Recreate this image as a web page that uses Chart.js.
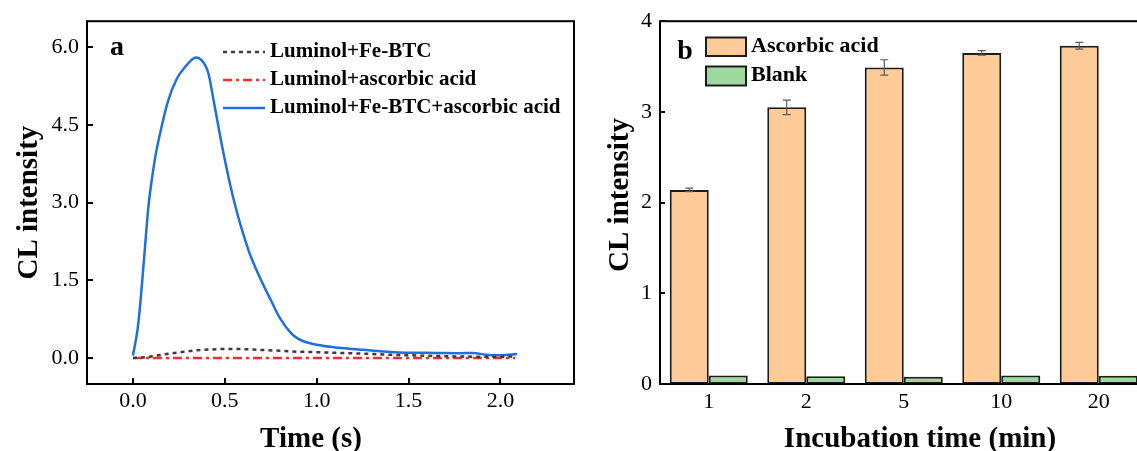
<!DOCTYPE html>
<html><head><meta charset="utf-8">
<script src="https://cdn.jsdelivr.net/npm/chart.js@4.4.0/dist/chart.umd.min.js"></script>
<style>
html,body{margin:0;padding:0;background:#fff;width:1137px;height:451px;overflow:hidden;position:relative;}
#ca{position:absolute;left:0;top:0;}
#cb{position:absolute;left:590px;top:0;}
</style></head><body>
<canvas id="ca" width="590" height="451"></canvas>
<canvas id="cb" width="600" height="451"></canvas>
<script>
// ---------- Panel a data ----------
const timeFeBtc = [0, 0.08, 0.15, 0.25, 0.33, 0.42, 0.51, 0.6, 0.69, 0.78, 0.87, 0.96, 1.05, 1.14, 1.23, 1.32, 1.41, 1.5, 1.6, 1.7, 1.78, 1.87, 1.96, 2.08];
const feBtc     = [0, 0.02, 0.06, 0.11, 0.145, 0.165, 0.177, 0.172, 0.158, 0.145, 0.127, 0.117, 0.107, 0.097, 0.088, 0.076, 0.063, 0.055, 0.044, 0.036, 0.03, 0.027, 0.025, 0.03];
const timeAscOnly = [0, 0.3, 0.6, 0.9, 1.2, 1.5, 1.8, 2.08];
const ascOnly     = [0, 0, 0, 0, 0, 0, 0, 0];
const timeMix = [0, 0.025, 0.04, 0.06, 0.085, 0.105, 0.125, 0.155, 0.19, 0.24, 0.285, 0.315, 0.34, 0.37, 0.41, 0.44, 0.49, 0.55, 0.63, 0.69, 0.75, 0.8, 0.86, 0.9, 0.94, 0.98, 1.03, 1.15, 1.25, 1.45, 1.65, 1.78, 1.85, 1.92, 2.0, 2.09];
const mix     = [0.05, 0.55, 1.05, 1.9, 2.95, 3.5, 3.95, 4.45, 4.95, 5.4, 5.62, 5.74, 5.8, 5.76, 5.5, 4.95, 4.0, 3.03, 2.07, 1.56, 1.12, 0.77, 0.48, 0.37, 0.31, 0.27, 0.24, 0.19, 0.16, 0.11, 0.1, 0.095, 0.1, 0.065, 0.055, 0.08];
const seriesNamesA = ['Luminol+Fe-BTC', 'Luminol+ascorbic acid', 'Luminol+Fe-BTC+ascorbic acid'];
const xTicksA = [0, 0.5, 1.0, 1.5, 2.0];
const yTicksA = [0, 1.5, 3.0, 4.5, 6.0];

// ---------- Panel b data ----------
const incubation   = ['1', '2', '5', '10', '20'];
const ascorbic     = [2.14, 3.05, 3.49, 3.65, 3.73];
const ascorbicErr  = [0.02, 0.08, 0.085, 0.025, 0.037];
const blank        = [0.095, 0.085, 0.08, 0.095, 0.09];
const seriesNamesB = ['Ascorbic acid', 'Blank'];
const yTicksB = [0, 1, 2, 3, 4];

const SERIF = "'Liberation Serif','Times New Roman',serif";
Chart.defaults.color = '#000';
Chart.defaults.font.family = SERIF;

function pairs(xs, ys){ return xs.map((x,i)=>({x:x, y:ys[i]})); }

const frameA = {
  id:'frameA',
  afterDraw(chart){
    const {ctx, chartArea:ca, scales:{x,y}} = chart;
    ctx.save();
    ctx.strokeStyle='#000'; ctx.lineWidth=2;
    ctx.strokeRect(ca.left, ca.top, ca.right-ca.left, ca.bottom-ca.top);
    ctx.beginPath();
    x.ticks.forEach(t=>{const px=Math.round(x.getPixelForValue(t.value)); ctx.moveTo(px, ca.bottom); ctx.lineTo(px, ca.bottom-6);});
    y.ticks.forEach(t=>{const py=Math.round(y.getPixelForValue(t.value)); ctx.moveTo(ca.left, py); ctx.lineTo(ca.left+6, py);});
    ctx.stroke();
    // legend
    const rows=[52,80,108];
    chart.data.datasets.forEach((ds,i)=>{
      ctx.save();
      ctx.strokeStyle=ds.borderColor; ctx.lineWidth=ds.borderWidth;
      ctx.setLineDash(ds.borderDash||[]);
      ctx.beginPath(); ctx.moveTo(223, rows[i]); ctx.lineTo(265, rows[i]); ctx.stroke();
      ctx.restore();
      ctx.fillStyle='#000'; ctx.font='bold 21px '+SERIF; ctx.textAlign='left'; ctx.textBaseline='middle';
      ctx.fillText(ds.label, 270, rows[i]);
    });
    ctx.font='bold 28px '+SERIF; ctx.textAlign='center'; ctx.textBaseline='alphabetic';
    ctx.fillText('a', 117, 55);
    ctx.font='bold 29px '+SERIF;
    ctx.fillText('Time (s)', 311, 447);
    ctx.restore();
  }
};

new Chart(document.getElementById('ca'), {
  type:'line',
  data:{datasets:[
    {label:seriesNamesA[0], data:pairs(timeFeBtc, feBtc), borderColor:'#3c3c3c', borderWidth:2.5, borderDash:[4,4], pointRadius:0, tension:0.4, cubicInterpolationMode:'monotone', fill:false},
    {label:seriesNamesA[1], data:pairs(timeAscOnly, ascOnly), borderColor:'#ff2a2a', borderWidth:2.5, borderDash:[9,4,3,4], pointRadius:0, tension:0, fill:false},
    {label:seriesNamesA[2], data:pairs(timeMix, mix), borderColor:'#1f6fe0', borderWidth:2.5, pointRadius:0, tension:0.4, cubicInterpolationMode:'monotone', fill:false}
  ]},
  options:{
    responsive:false, animation:false, events:[],
    layout:{padding:{top:19, right:16, left:0, bottom:0}},
    plugins:{legend:{display:false}, tooltip:{enabled:false}},
    scales:{
      x:{type:'linear', min:-0.25, max:2.4,
         grid:{display:false, drawTicks:false}, border:{display:false},
         afterBuildTicks(s){ s.ticks = xTicksA.map(v=>({value:v})); },
         ticks:{font:{family:SERIF,size:22}, color:'#000', padding:4, callback:v=>Number(v).toFixed(1), maxRotation:0},
         afterFit(s){ s.height = 67; }},
      y:{type:'linear', min:-0.5, max:6.5,
         grid:{display:false, drawTicks:false}, border:{display:false},
         afterBuildTicks(s){ s.ticks = yTicksA.map(v=>({value:v})); },
         ticks:{font:{family:SERIF,size:22}, color:'#000', padding:8, callback:v=>Number(v).toFixed(1)},
         title:{display:true, text:'CL intensity', color:'#000', font:{family:SERIF,size:29,weight:'bold',lineHeight:1}, padding:{top:15,bottom:0}},
         afterFit(s){ s.width = 87; }}
    }
  },
  plugins:[frameA]
});

const frameB = {
  id:'frameB',
  afterDatasetsDraw(chart){
    const {ctx, scales:{y}} = chart;
    const meta = chart.getDatasetMeta(0);
    ctx.save();
    ctx.strokeStyle='#5a5a5a'; ctx.lineWidth=1.2;
    meta.data.forEach((el,i)=>{
      const v=ascorbic[i], e=ascorbicErr[i];
      const yt=y.getPixelForValue(v+e), yb=y.getPixelForValue(v-e), x=el.x;
      ctx.beginPath();
      ctx.moveTo(x, yt); ctx.lineTo(x, yb);
      ctx.moveTo(x-4, yt); ctx.lineTo(x+4, yt);
      ctx.moveTo(x-4, yb); ctx.lineTo(x+4, yb);
      ctx.stroke();
    });
    ctx.restore();
  },
  afterDraw(chart){
    const {ctx, chartArea:ca, scales:{y}} = chart;
    ctx.save();
    ctx.strokeStyle='#000'; ctx.lineWidth=2;
    ctx.strokeRect(ca.left, ca.top, ca.right-ca.left, ca.bottom-ca.top);
    ctx.beginPath();
    y.ticks.forEach(t=>{const py=Math.round(y.getPixelForValue(t.value)); ctx.moveTo(ca.left, py); ctx.lineTo(ca.left+5, py);});
    ctx.stroke();
    // legend
    const rows=[{top:37.5,h:18.5,ty:46},{top:66.5,h:19,ty:75.5}];
    chart.data.datasets.forEach((ds,i)=>{
      const r=rows[i];
      ctx.fillStyle=ds.backgroundColor; ctx.fillRect(116, r.top, 40, r.h);
      ctx.strokeStyle='#1c1c1c'; ctx.lineWidth=2; ctx.strokeRect(116, r.top, 40, r.h);
      ctx.fillStyle='#000'; ctx.font='bold 22px '+SERIF; ctx.textAlign='left'; ctx.textBaseline='middle';
      ctx.fillText(ds.label, 161, r.ty);
    });
    ctx.font='bold 28px '+SERIF; ctx.textAlign='center'; ctx.textBaseline='alphabetic';
    ctx.fillText('b', 95, 59);
    ctx.font='bold 29px '+SERIF;
    ctx.fillText('Incubation time (min)', 330, 447);
    // y-axis title
    ctx.save();
    ctx.translate(30.5, 195);
    ctx.rotate(-Math.PI/2);
    ctx.textBaseline='middle';
    ctx.fillText('CL intensity', 0, 0);
    ctx.restore();
    ctx.restore();
  }
};

new Chart(document.getElementById('cb'), {
  type:'bar',
  data:{labels:incubation, datasets:[
    {label:seriesNamesB[0], data:ascorbic, backgroundColor:'#FFCC99', borderColor:'#1c1c1c', borderWidth:2, borderSkipped:false, categoryPercentage:0.8, barPercentage:1.0},
    {label:seriesNamesB[1], data:blank, backgroundColor:'#9ED89E', borderColor:'#1c1c1c', borderWidth:2, borderSkipped:false, categoryPercentage:0.8, barPercentage:1.0}
  ]},
  options:{
    responsive:false, animation:false, events:[],
    layout:{padding:{top:19, right:42.5, left:0, bottom:0}},
    plugins:{legend:{display:false}, tooltip:{enabled:false}},
    scales:{
      x:{grid:{display:false, drawTicks:false}, border:{display:false},
         ticks:{font:{family:SERIF,size:22}, color:'#000', padding:5, maxRotation:0},
         afterFit(s){ s.height = 67; }},
      y:{min:0, max:4,
         grid:{display:false, drawTicks:false}, border:{display:false},
         afterBuildTicks(s){ s.ticks = yTicksB.map(v=>({value:v})); },
         ticks:{font:{family:SERIF,size:22}, color:'#000', padding:8},
         afterFit(s){ s.width = 70; }}
    }
  },
  plugins:[frameB]
});
</script>
</body></html>
